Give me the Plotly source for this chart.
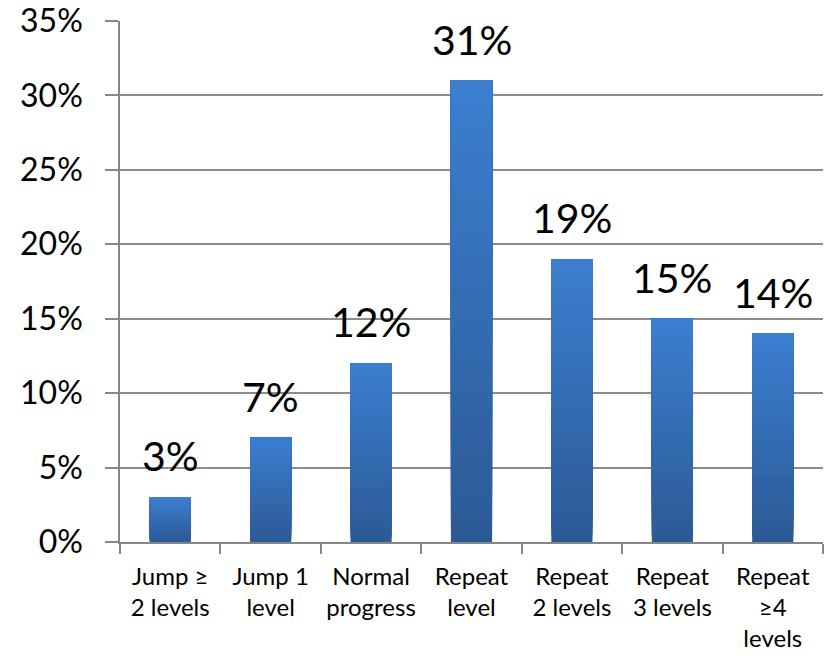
import numpy as np
import plotly.graph_objects as go

categories = ["Jump ≥<br>2 levels", "Jump 1<br>level", "Normal<br>progress",
              "Repeat<br>level", "Repeat<br>2 levels", "Repeat<br>3 levels",
              "Repeat<br>≥4<br>levels"]
values = [3, 7, 12, 31, 19, 15, 14]
labels = [f"{v}%" for v in values]

FONT = "Lato"
TOP = np.array([0x3C, 0x7E, 0xD0])
BOTTOM = np.array([0x2C, 0x5A, 0x96])
N_SEG = 40

fig = go.Figure()
vals = np.array(values, dtype=float)

# vertical gradient: overlapping bars, each running from a higher base up to the
# bar top, so later (lighter) slices cover the upper part of earlier ones
for i in range(N_SEG):
    t = i / (N_SEG - 1)
    c = BOTTOM + (TOP - BOTTOM) * t
    color = "rgb(%d,%d,%d)" % tuple(c.round().astype(int))
    base = vals * i / N_SEG
    fig.add_trace(go.Bar(
        x=categories, y=vals - base, base=base,
        marker=dict(color=color, line=dict(width=0)),
        width=0.41, hoverinfo="skip", showlegend=False,
    ))

# value labels sitting above each bar
for cat, v, lab in zip(categories, values, labels):
    fig.add_annotation(
        x=cat, y=v, text=lab, showarrow=False,
        xanchor="center", yanchor="bottom", yshift=15,
        font=dict(family=FONT, size=41, color="black"),
    )

fig.update_layout(
    width=829, height=658,
    margin=dict(l=120, r=6, t=21, b=116),
    paper_bgcolor="white", plot_bgcolor="white",
    barmode="overlay",
    font=dict(family=FONT, color="black"),
)
fig.update_xaxes(
    automargin=False, tickangle=0,
    showline=True, linecolor="#868686", linewidth=1.5,
    ticks="outside", tickson="boundaries", ticklen=10, tickcolor="#868686", tickwidth=1.5,
    tickfont=dict(family=FONT, size=24, color="black"),
    ticklabelstandoff=12,
    showgrid=False,
)
fig.update_yaxes(
    automargin=False,
    range=[0, 35], dtick=5, ticksuffix="%",
    showline=True, linecolor="#868686", linewidth=1.5,
    ticks="outside", ticklen=13, tickcolor="#868686", tickwidth=1.5,
    tickfont=dict(family=FONT, size=32, color="black"),
    ticklabelstandoff=16,
    showgrid=True, gridcolor="#8C8C8C", gridwidth=1.5,
    zeroline=False,
)

fig.write_html("out.html")
